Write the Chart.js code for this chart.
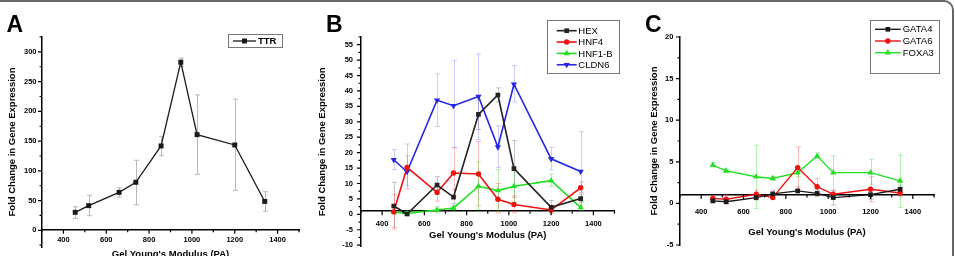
<!DOCTYPE html>
<html>
<head>
<meta charset="utf-8">
<script src="https://cdn.jsdelivr.net/npm/chart.js@4.4.1/dist/chart.umd.min.js"></script>
<style>
  html, body { margin: 0; padding: 0; background: #fff; }
  body { width: 955px; height: 256px; position: relative; overflow: hidden; }
  canvas { position: absolute; top: 0; }
  #frame { position: absolute; left: -20px; top: 0; width: 972px; height: 300px;
    border-top: 2px solid #666; border-right: 2px solid #666; border-top-right-radius: 10px; pointer-events: none; }
</style>
</head>
<body>
<canvas id="chartA" width="305" height="277" style="left:0"></canvas>
<canvas id="chartB" width="314" height="277" style="left:311px"></canvas>
<canvas id="chartC" width="325" height="288" style="left:630px"></canvas>
<div id="frame"></div>
<script>
"use strict"

const FONT = '"Liberation Sans", Arial, sans-serif';

// gel stiffness for each condition (x axis)
const modulus = [455, 518, 660, 738, 856, 948, 1024, 1200, 1340];
const xTickLabels = [400, 600, 800, 1000, 1200, 1400];
const baselineFold = 1;   // the x axis is drawn at fold change = 1

// panel A
const ttr   = [30.3, 41.5, 63.9, 80.8, 141.9, 282.6, 160.9, 143.5, 48.6];
const ttrLo = [20, 24.6, 56, 43, 125.5, 275.3, 94.2, 67.3, 32];
const ttrHi = [39.5, 58.9, 71.7, 117.8, 158, 289.4, 227.7, 220.4, 65];
const yTicksA = [0, 50, 100, 150, 200, 250, 300];

// panel B
const hex     = [2.7, 0.1, 9.5, 5.6, 32.4, 38.7, 14.8, 2.3, 5.1];
const hexLo   = [-4.2, -0.5, 6.6, 3.5, 27.5, 36.5, 5.5, 0.8, 4.0];
const hexHi   = [10.4, 0.7, 12.2, 8.0, 37.0, 41.0, 23.9, 4.5, 6.5];
const hnf4    = [0.8, 15.2, 7.1, 13.4, 13.1, 4.9, 3.2, 1.4, 8.6];
const hnf4Lo  = [-4.8, 8.2, 4.3, 6.0, 2.8, 0.5, 0.5, 0.2, 7.0];
const hnf4Hi  = [6.5, 22.8, 10.0, 21.6, 23.6, 10.0, 6.0, 3.0, 10.5];
const hnf1b   = [0.8, 0.3, 1.4, 2.0, 9.1, 7.7, 9.1, 10.9, 2.2];
const hnf1bLo = [0, -0.2, 0.5, 1.0, 1.5, 1.0, 4.0, 9.0, 1.0];
const hnf1bHi = [2, 0.8, 2.5, 3.0, 17, 14.5, 15, 13, 4];
const cldn6   = [17.7, 13.8, 37.0, 35.2, 38.2, 21.8, 42.2, 18.0, 13.9];
const cldn6Lo = [14.5, 9.3, 28.5, 21.7, 24.2, 15.2, 36.5, 14.4, 1.2];
const cldn6Hi = [21, 19, 45.5, 50, 52, 28.7, 48.2, 21.7, 26.8];
const yTicksB = [-10, -5, 0, 5, 10, 15, 20, 25, 30, 35, 40, 45, 50, 55];

// panel C
const gata4   = [0.3, 0.2, 0.7, 1.15, 1.5, 1.2, 0.7, 1.05, 1.7];
const gata4Lo = [0.1, 0, 0.4, 0.9, 1.0, 0.8, -0.2, 0.5, 1.2];
const gata4Hi = [0.5, 0.4, 1.0, 1.6, 2.0, 1.6, 1.5, 1.6, 2.2];
const gata6   = [0.6, 0.5, 1.1, 0.7, 4.3, 2.0, 1.1, 1.7, 1.25];
const gata6Lo = [0.3, -0.1, 0.6, 0.5, 1.7, 1.0, 0.6, 0.2, 0.8];
const gata6Hi = [0.9, 1.1, 1.6, 1.1, 6.8, 3.0, 1.6, 3.2, 1.7];
const foxa3   = [4.6, 3.9, 3.2, 3.0, 3.7, 5.7, 3.7, 3.7, 2.7];
const foxa3Lo = [4.4, 3.7, -0.6, 2.8, 3.2, 5.4, 1.0, 2.3, -0.5];
const foxa3Hi = [4.9, 4.1, 7.0, 3.2, 4.3, 6.1, 5.7, 5.3, 5.8];
const yTicksC = [-5, 0, 5, 10, 15, 20];


// vertical error bars with caps, behind the lines
const errorBars = {
  id: 'errorBars',
  beforeDatasetsDraw(chart) {
    const {ctx, scales: {x, y}} = chart;
    ctx.save();
    chart.data.datasets.forEach(ds => {
      ctx.strokeStyle = ds.errColor;
      ctx.lineWidth = 1;
      ds.data.forEach((p, i) => {
        const px = Math.round(x.getPixelForValue(p.x)) + 0.5;
        const top = y.getPixelForValue(ds.errHi[i]);
        const bot = y.getPixelForValue(ds.errLo[i]);
        ctx.beginPath();
        ctx.moveTo(px, top); ctx.lineTo(px, bot);
        ctx.moveTo(px - 2.5, top); ctx.lineTo(px + 2.5, top);
        ctx.moveTo(px - 2.5, bot); ctx.lineTo(px + 2.5, bot);
        ctx.stroke();
      });
    });
    ctx.restore();
  }
};

// major/minor tick marks, Origin style
const tickMarks = {
  id: 'tickMarks',
  afterDraw(chart) {
    const {ctx, chartArea, scales: {x, y}} = chart;
    const axisY = y.getPixelForValue(baselineFold);
    ctx.save();
    ctx.strokeStyle = '#000';
    ctx.lineWidth = 1.2;
    ctx.beginPath();
    x.ticks.forEach(t => {
      const px = x.getPixelForValue(t.value);
      const len = t.label !== '' ? 4 : 2.5;
      ctx.moveTo(px, axisY); ctx.lineTo(px, axisY + len);
    });
    y.ticks.forEach(t => {
      const py = y.getPixelForValue(t.value);
      const len = t.label !== '' ? 4 : 2.5;
      ctx.moveTo(chartArea.left, py); ctx.lineTo(chartArea.left - len, py);
    });
    ctx.stroke();
    ctx.restore();
  }
};

// boxed legend inside the plot
const boxLegend = {
  id: 'boxLegend',
  afterDraw(chart, args, opts) {
    const ctx = chart.ctx;
    ctx.save();
    ctx.strokeStyle = '#777';
    ctx.lineWidth = 1;
    ctx.strokeRect(opts.x + 0.5, opts.y + 0.5, opts.w, opts.h);
    chart.data.datasets.forEach((ds, i) => {
      const cy = opts.firstRow + i * opts.rowH;
      ctx.strokeStyle = ds.borderColor;
      ctx.lineWidth = ds.borderWidth;
      ctx.beginPath();
      ctx.moveTo(opts.x0, cy); ctx.lineTo(opts.x1, cy);
      ctx.stroke();
      ctx.fillStyle = ds.borderColor;
      Chart.helpers.drawPoint(ctx, {pointStyle: ds.pointStyle, rotation: ds.pointRotation, radius: ds.pointRadius, borderWidth: 0}, (opts.x0 + opts.x1) / 2, cy);
      ctx.fillStyle = '#000';
      ctx.font = opts.font;
      ctx.textBaseline = 'middle';
      ctx.fillText(ds.label, opts.textX, cy + 0.5);
    });
    ctx.restore();
  }
};

const panelLetter = {
  id: 'panelLetter',
  afterDraw(chart, args, opts) {
    const ctx = chart.ctx;
    ctx.save();
    ctx.font = 'bold 23px ' + FONT;
    ctx.fillStyle = '#000';
    ctx.textBaseline = 'alphabetic';
    ctx.fillText(opts.text, opts.x, opts.y);
    ctx.restore();
  }
};

const tickFont = {family: FONT, size: 7.5, weight: 'bold'};
const titleFont = {family: FONT, size: 9.5, weight: 'bold'};

function makeChart(id, cfg) {
  const chart = new Chart(document.getElementById(id), {
    type: 'line',
    data: {
      datasets: cfg.series.map(s => ({
        label: s.label,
        data: modulus.map((m, i) => ({x: m, y: s.values[i]})),
        errLo: s.lo,
        errHi: s.hi,
        errColor: s.errColor,
        borderColor: s.color,
        backgroundColor: s.color,
        pointBackgroundColor: s.color,
        borderWidth: cfg.lineWidth,
        pointStyle: s.marker,
        pointRotation: s.rot || 0,
        pointRadius: s.radius,
        pointBorderWidth: 0,
        tension: 0
      }))
    },
    options: {
      responsive: false,
      animation: false,
      events: [],
      layout: {padding: Object.assign({}, cfg.padding)},
      plugins: {
        legend: {display: false},
        tooltip: {enabled: false},
        boxLegend: cfg.legend,
        panelLetter: cfg.letter
      },
      scales: {
        x: {
          type: 'linear',
          min: 300,
          max: 1500,
          position: {y: baselineFold},
          afterFit: s => { s.height = cfg.xHeight; },
          grid: {drawOnChartArea: false, drawTicks: false},
          border: {color: '#000', width: 1.5},
          ticks: {
            stepSize: 100, autoSkip: false, maxRotation: 0, minRotation: 0,
            padding: cfg.xTickPad, color: '#000', font: tickFont,
            callback: v => xTickLabels.includes(v) ? v : ''
          },
          title: {display: true, text: "Gel Young's Modulus (PA)", color: '#000', font: titleFont, padding: 0}
        },
        y: {
          type: 'linear',
          position: 'left',
          min: cfg.yMin,
          max: cfg.yMax,
          afterFit: s => { s.width = cfg.yWidth; },
          grid: {drawOnChartArea: false, drawTicks: false},
          border: {color: '#000', width: 1.5},
          ticks: {
            stepSize: cfg.yStep, autoSkip: false, includeBounds: false,
            padding: cfg.yTickPad, color: '#000', font: tickFont,
            callback: v => cfg.yLabels.includes(v) ? v : ''
          },
          title: {display: true, text: 'Fold Change in Gene Expression', color: '#000', font: titleFont,
            padding: {top: cfg.yTitlePad, bottom: 0}}
        }
      }
    },
    plugins: [errorBars, tickMarks, boxLegend, panelLetter]
  });

  // the value-positioned x axis does not take layout space, so pull the
  // plot bottom to where the y axis should end
  for (let k = 0; k < 2; k++) {
    cfg.padding.bottom += chart.chartArea.bottom - cfg.plotBottom;
    chart.options.layout.padding = Object.assign({}, cfg.padding);
    chart.update();
  }
  return chart;
}

const legendFont = '9.5px ' + FONT;

makeChart('chartA', {
  padding: {left: 0, top: 37, right: 6, bottom: 0},
  plotBottom: 247,
  yWidth: 42, yTitlePad: 6.3, yTickPad: 5.5,
  xHeight: 30, xTickPad: 5.8,
  yMin: -28, yMax: 325, yStep: 25, yLabels: yTicksA,
  lineWidth: 1.3,
  letter: {text: 'A', x: 6.5, y: 31.7},
  legend: {x: 228, y: 34, w: 54, h: 13, firstRow: 41, rowH: 11, x0: 233, x1: 256, textX: 258, font: 'bold 9.5px ' + FONT},
  series: [
    {label: 'TTR', values: ttr, lo: ttrLo, hi: ttrHi, color: '#1a1a1a', errColor: '#b8b8b8', marker: 'rect', radius: 3.5}
  ]
});

makeChart('chartB', {
  padding: {left: 0, top: 37, right: 10.5, bottom: 0},
  plotBottom: 246.7,
  yWidth: 50, yTitlePad: 5.8, yTickPad: 8,
  xHeight: 30, xTickPad: 8.2,
  yMin: -10.5, yMax: 57.5, yStep: 2.5, yLabels: yTicksB,
  lineWidth: 1.6,
  letter: {text: 'B', x: 15, y: 31.7},
  legend: {x: 236, y: 20, w: 72, h: 53, firstRow: 30.7, rowH: 11.35, x0: 245.7, x1: 265.7, textX: 267.3, font: legendFont},
  series: [
    {label: 'HEX', values: hex, lo: hexLo, hi: hexHi, color: '#222222', errColor: 'rgba(90,90,90,0.35)', marker: 'rect', radius: 3.3},
    {label: 'HNF4', values: hnf4, lo: hnf4Lo, hi: hnf4Hi, color: '#ee1111', errColor: 'rgba(255,60,60,0.35)', marker: 'circle', radius: 2.7},
    {label: 'HNF1-B', values: hnf1b, lo: hnf1bLo, hi: hnf1bHi, color: '#22e022', errColor: 'rgba(40,210,40,0.35)', marker: 'triangle', radius: 3.6},
    {label: 'CLDN6', values: cldn6, lo: cldn6Lo, hi: cldn6Hi, color: '#2525e6', errColor: 'rgba(90,90,255,0.3)', marker: 'triangle', rot: 180, radius: 3.6}
  ]
});

makeChart('chartC', {
  padding: {left: 0, top: 37, right: 21, bottom: 0},
  plotBottom: 245,
  yWidth: 50, yTitlePad: 18.3, yTickPad: 6.7,
  xHeight: 43, xTickPad: 12.5,
  yMin: -5, yMax: 20, yStep: 2.5, yLabels: yTicksC,
  lineWidth: 1.4,
  letter: {text: 'C', x: 15, y: 31.7},
  legend: {x: 240, y: 20, w: 69, h: 53, firstRow: 29.3, rowH: 11.7, x0: 245, x1: 270.7, textX: 272.7, font: legendFont},
  series: [
    {label: 'GATA4', values: gata4, lo: gata4Lo, hi: gata4Hi, color: '#1a1a1a', errColor: 'rgba(90,90,90,0.35)', marker: 'rect', radius: 3.3},
    {label: 'GATA6', values: gata6, lo: gata6Lo, hi: gata6Hi, color: '#ee1111', errColor: 'rgba(255,60,60,0.35)', marker: 'circle', radius: 2.7},
    {label: 'FOXA3', values: foxa3, lo: foxa3Lo, hi: foxa3Hi, color: '#22e022', errColor: 'rgba(40,210,40,0.35)', marker: 'triangle', radius: 3.6}
  ]
});
</script>
</body>
</html>
